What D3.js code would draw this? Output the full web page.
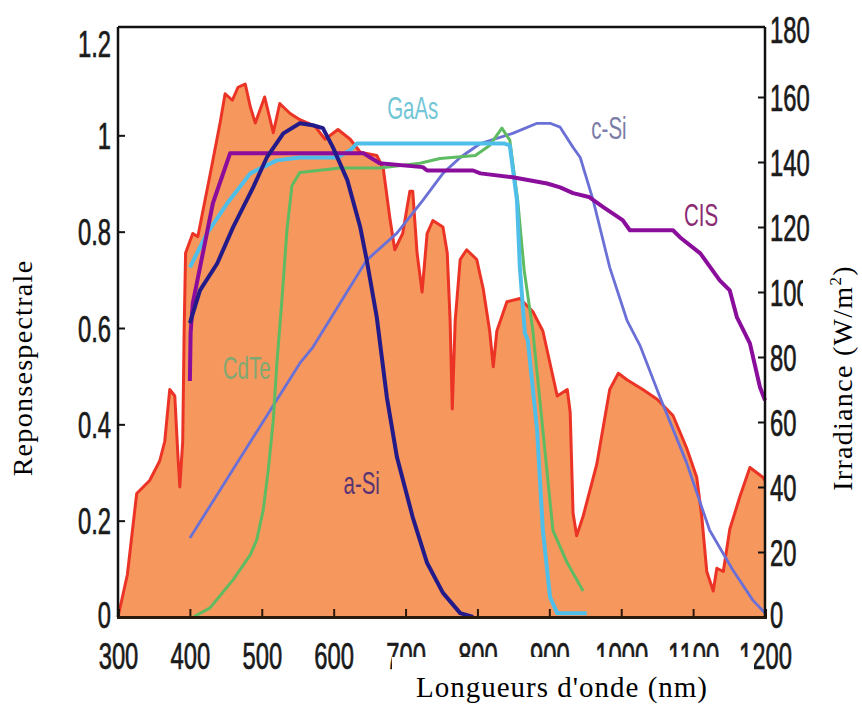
<!DOCTYPE html>
<html><head><meta charset="utf-8">
<script src="https://cdn.jsdelivr.net/npm/d3@7"></script>
<style>html,body{margin:0;padding:0;background:#fff;}svg{display:block;}</style>
</head><body>
<svg id="chart" width="862" height="704"></svg>
<script>
// ---- data ----
const xTicks = [300,400,500,600,700,800,900,1000,1100,1200];
const leftTicks = [0,0.2,0.4,0.6,0.8,1,1.2];
const leftTickLabels = ["0","0.2","0.4","0.6","0.8","1","1.2"];
const rightTicks = [0,20,40,60,80,100,120,140,160,180];

// solar irradiance (W/m2) [wavelength nm, value]
const irradiance = [[300,0],[313,13],[326,38],[344,42],[358,48],[365,54],[372,70],[379,68],[383,51],[386,40],[390,54],[392,88],[394,112],[404,118],[411,117],[428,136],[442,152],[449,161],[459,159],[467,163],[477,164],[484,157],[491,152],[504,160],[516,149],[525,158],[539,155],[553,153],[574,151],[588,147],[606,150],[623,147],[637,143],[660,142],[669,138],[678,123],[685,113],[696,118],[706,131],[710,131],[716,112],[723,100],[730,118],[738,122],[752,120],[758,112],[762,91],[765,64],[769,91],[776,110],[785,113],[799,110],[808,101],[817,88],[822,77],[827,88],[841,97],[859,98],[877,94],[891,88],[911,68],[925,70],[929,63],[933,32],[938,25],[947,31],[966,47],[984,70],[996,75],[1008,73],[1030,70],[1050,67],[1072,62],[1091,52],[1105,43],[1112,31],[1119,14],[1128,8],[1133,15],[1142,14],[1151,27],[1165,37],[1179,46],[1197,43],[1200,42]];

// spectral responses [wavelength nm, response]
const cSi = [[400,0.164],[553,0.527],[571,0.560],[646,0.741],[688,0.797],[724,0.865],[752,0.921],[776,0.954],[804,0.983],[849,1.004],[883,1.025],[901,1.025],[915,1.017],[933,0.975],[943,0.954],[961,0.865],[984,0.726],[1008,0.616],[1026,0.564],[1054,0.456],[1091,0.320],[1123,0.180],[1155,0.098],[1183,0.035],[1200,0.008]];
const cdTe = [[405,0],[428,0.019],[460,0.077],[484,0.129],[493,0.16],[502,0.222],[509,0.305],[516,0.409],[521,0.527],[528,0.658],[535,0.803],[542,0.896],[553,0.923],[609,0.932],[664,0.932],[720,0.942],[748,0.952],[797,0.958],[817,0.979],[834,1.015],[845,0.990],[856,0.865],[865,0.720],[877,0.595],[891,0.388],[905,0.180],[925,0.112],[947,0.054]];
const gaAs = [[400,0.726],[424,0.797],[452,0.859],[484,0.921],[521,0.948],[553,0.954],[605,0.954],[623,0.969],[632,0.983],[838,0.983],[845,0.979],[855,0.865],[859,0.726],[866,0.589],[870,0.575],[883,0.388],[891,0.180],[901,0.041],[911,0.008],[952,0.008]];
const cis = [[400,0.49],[401,0.59],[404,0.651],[418,0.755],[432,0.859],[456,0.963],[641,0.963],[664,0.942],[724,0.934],[730,0.927],[794,0.927],[804,0.921],[849,0.913],[897,0.900],[915,0.892],[933,0.880],[955,0.872],[975,0.851],[1002,0.824],[1012,0.803],[1072,0.803],[1082,0.788],[1110,0.755],[1137,0.699],[1151,0.678],[1161,0.622],[1179,0.568],[1193,0.477],[1200,0.450]];
const aSi = [[400,0.61],[414,0.678],[438,0.734],[460,0.809],[488,0.892],[507,0.954],[530,1.004],[553,1.025],[571,1.021],[585,1.015],[599,0.975],[619,0.907],[637,0.809],[646,0.741],[660,0.622],[674,0.456],[688,0.332],[710,0.207],[730,0.112],[752,0.050],[776,0.008],[794,0]];

const seriesLabels = [
  {name:"GaAs", wl:710, v:1.058, color:"#72c6d6"},
  {name:"c-Si", wl:983, v:1.015, color:"#7c7ca8"},
  {name:"CIS", wl:1111, v:0.834, color:"#8a2a72"},
  {name:"CdTe", wl:479, v:0.517, color:"#7fa872"},
  {name:"a-Si", wl:639, v:0.278, color:"#5a3472"}
];

// ---- drawing ----
const svg = d3.select("#chart");
const X0 = 118, X1 = 765, YB = 617, YT = 27;
const x = d3.scaleLinear().domain([300,1200]).range([X0,X1]);
const yL = d3.scaleLinear().domain([0,1.2]).range([YB,39]);
const yR = d3.scaleLinear().domain([0,180]).range([YB,32]);

const area = d3.area().x(d=>x(d[0])).y0(yR(0)).y1(d=>yR(d[1]));
const lineR = d3.line().x(d=>x(d[0])).y(d=>yR(d[1]));
const lineL = d3.line().x(d=>x(d[0])).y(d=>yL(d[1]));

svg.append("path").datum(irradiance).attr("d",area).attr("fill","#f6975d");
svg.append("path").datum(irradiance).attr("d",lineR).attr("fill","none")
  .attr("stroke","#ec3426").attr("stroke-width",3).attr("stroke-linejoin","round");

const curves = [
  {d:cSi, c:"#6b70d6", w:2.8},
  {d:cdTe, c:"#5fbb62", w:3},
  {d:gaAs, c:"#4fbfea", w:4},
  {d:cis, c:"#8b0d9c", w:4},
  {d:aSi, c:"#231b8a", w:4}
];
curves.forEach(s=>{
  svg.append("path").datum(s.d).attr("d",lineL).attr("fill","none")
    .attr("stroke",s.c).attr("stroke-width",s.w).attr("stroke-linejoin","round");
});

const SX = 0.66;
function styleTicks(g){
  g.selectAll("text").attr("font-family","Liberation Sans, Arial, sans-serif")
   .attr("font-size",36).attr("fill","#1a1a1a").attr("stroke","#1a1a1a").attr("stroke-width",0.7);
}

// bottom axis
const gx = svg.append("g").attr("transform",`translate(0,${YB})`)
  .call(d3.axisBottom(x).tickValues(xTicks).tickSize(-8).tickPadding(0).tickFormat(d3.format("d")));
gx.select(".domain").attr("stroke","#2a1a0c").attr("stroke-width",3);
gx.selectAll(".tick line").attr("stroke","#2a1a0c").attr("stroke-width",2);
styleTicks(gx);
gx.selectAll("text").attr("y",0).attr("dy",0).attr("transform",`translate(0,52) scale(${SX},1)`);

// left axis
const gl = svg.append("g").attr("transform",`translate(${X0},0)`)
  .call(d3.axisLeft(yL).tickValues(leftTicks).tickSize(-7).tickPadding(0).tickFormat((d,i)=>leftTickLabels[i]));
gl.select(".domain").remove();
gl.selectAll(".tick line").attr("stroke","#111").attr("stroke-width",2)
  .filter(d=>d===0||d===1.2).remove();
styleTicks(gl);
gl.selectAll("text").attr("x",0).attr("dy",0)
  .attr("transform",d=>`translate(-7,${d===1.2?17:(d===0?10:13)}) scale(${SX},1)`);

// right axis
const gr = svg.append("g").attr("transform",`translate(${X1},0)`)
  .call(d3.axisRight(yR).tickValues(rightTicks).tickSize(-7).tickPadding(0));
gr.select(".domain").remove();
gr.selectAll(".tick line").attr("stroke","#111").attr("stroke-width",2)
  .filter(d=>d===0||d===180).remove();
styleTicks(gr);
gr.selectAll("text").attr("x",0).attr("dy",0)
  .attr("transform",d=>`translate(5,${d===180?10:(d===0?10:13)}) scale(${SX},1)`);

// frame
svg.append("line").attr("x1",X0).attr("x2",X0).attr("y1",YT).attr("y2",YB).attr("stroke","#111").attr("stroke-width",2.5);
svg.append("line").attr("x1",X1).attr("x2",X1).attr("y1",YT).attr("y2",YB).attr("stroke","#111").attr("stroke-width",2.5);
svg.append("line").attr("x1",X0).attr("x2",X1).attr("y1",YT).attr("y2",YT).attr("stroke","#111").attr("stroke-width",2.5);

// series labels
seriesLabels.forEach(l=>{
  svg.append("text").attr("transform",`translate(${x(l.wl)},${yL(l.v)}) scale(0.64,1)`)
    .attr("text-anchor","middle").attr("dy","0.35em")
    .attr("font-family","Liberation Sans, Arial, sans-serif").attr("font-size",32)
    .attr("fill",l.color).text(l.name);
});

// x-axis title (white box)
svg.append("rect").attr("x",392).attr("y",657).attr("width",362).attr("height",47).attr("fill","#fff");
svg.append("text").attr("x",562).attr("y",697).attr("text-anchor","middle")
  .attr("font-family","Liberation Serif, Times New Roman, serif").attr("font-size",29)
  .attr("letter-spacing",1).attr("fill","#000").text("Longueurs d'onde (nm)");

// left title
svg.append("text").attr("transform","translate(32,368) rotate(-90)").attr("text-anchor","middle")
  .attr("font-family","Liberation Serif, Times New Roman, serif").attr("font-size",28)
  .attr("letter-spacing",1.3).attr("fill","#000").text("Reponsespectrale");

// right title
svg.append("rect").attr("x",803).attr("y",245).attr("width",59).attr("height",262).attr("fill","#fff");
const rt = svg.append("text").attr("transform","translate(852,378) rotate(-90)").attr("text-anchor","middle")
  .attr("font-family","Liberation Serif, Times New Roman, serif").attr("font-size",28)
  .attr("letter-spacing",1.3).attr("fill","#000");
rt.append("tspan").text("Irradiance (W/m");
rt.append("tspan").attr("font-size",17).attr("dy",-11).text("2");
rt.append("tspan").attr("dy",11).text(")");
</script>
</body></html>
